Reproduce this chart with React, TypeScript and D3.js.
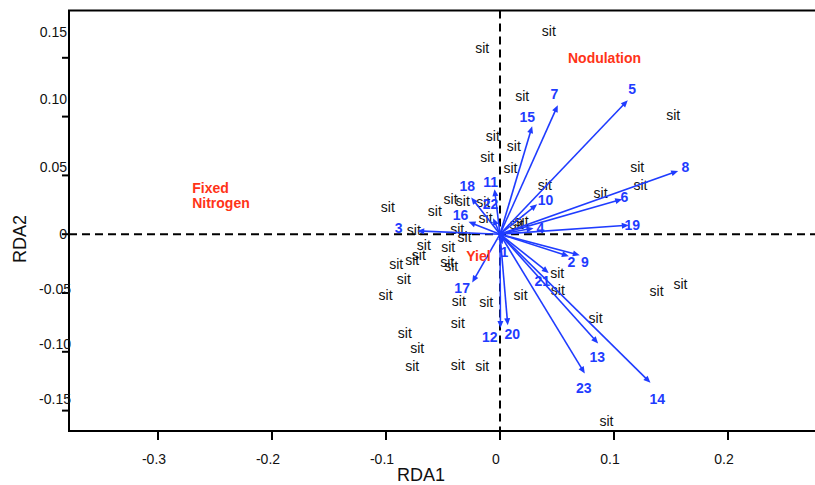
import * as d3 from "d3";
import { useEffect, useRef } from "react";

// RDA biplot: response arrows (blue), site scores (black "sit"), factor labels (red)
const ARROW_IDS = ["1", "2", "3", "4", "5", "6", "7", "8", "9", "10", "11", "12", "13", "14", "15", "16", "17", "18", "19", "20", "21", "22", "23"];
const ARROW_RDA1 = [0.0022, 0.0604, -0.0726, 0.0294, 0.1121, 0.1072, 0.0507, 0.1563, 0.07, 0.0326, -0.0048, 0.0004, 0.0861, 0.132, 0.0282, -0.0276, -0.0244, -0.0253, 0.113, 0.0068, 0.0428, -0.006, 0.0744];
const ARROW_RDA2 = [-0.0085, -0.0187, 0.0028, 0.0051, 0.1139, 0.0298, 0.1097, 0.0538, -0.0179, 0.0255, 0.0383, -0.0797, -0.0929, -0.1264, 0.0918, 0.0105, -0.0411, 0.0312, 0.0077, -0.0774, -0.0329, 0.0136, -0.1185];
const LABEL_RDA1 = [0.0039, 0.0627, -0.089, 0.0355, 0.116, 0.1092, 0.0478, 0.1627, 0.0744, 0.0399, -0.0083, -0.0089, 0.0853, 0.1379, 0.0239, -0.0346, -0.0332, -0.0288, 0.116, 0.0107, 0.037, -0.0083, 0.0735];
const LABEL_RDA2 = [-0.0151, -0.0241, 0.0051, 0.0054, 0.123, 0.0312, 0.1188, 0.0572, -0.0241, 0.0289, 0.0445, -0.0878, -0.1048, -0.1406, 0.0992, 0.0162, -0.0462, 0.0408, 0.0077, -0.085, -0.0397, 0.0255, -0.1312];

const SITE_RDA1 = [0.0428, -0.0156, 0.0195, -0.0063, 0.0121, -0.0112, 0.0092, 0.0393, -0.0984, -0.0572, -0.0434, -0.0326, -0.0147, -0.0127, 0.0145, 0.0189, -0.0756, -0.0375, -0.0311, -0.0668, -0.0454, -0.0712, -0.077, -0.0911, -0.0463, -0.0428, -0.0844, -0.1004, -0.0361, -0.0121, 0.018, 0.0502, 0.0507, -0.037, -0.0835, -0.0726, -0.077, -0.037, -0.0156, 0.0838, 0.1373, 0.1583, 0.0934, 0.1519, 0.1204, 0.1232, 0.0882];
const SITE_RDA2 = [0.1729, 0.1584, 0.1173, 0.0833, 0.0751, 0.0657, 0.0564, 0.0417, 0.0232, 0.0198, 0.0295, 0.0283, 0.0275, 0.0134, 0.0089, 0.0111, 0.0034, 0.004, -0.0028, -0.0096, -0.0106, -0.0179, -0.0221, -0.0258, -0.0236, -0.0272, -0.0385, -0.0519, -0.0567, -0.0581, -0.0519, -0.0329, -0.0476, -0.0754, -0.0844, -0.0972, -0.1122, -0.1114, -0.1122, -0.0717, -0.0485, -0.0428, -0.1588, 0.1012, 0.0572, 0.0417, 0.0351];

const FACTOR_NAMES = ["Nodulation", "Fixed", "Nitrogen", "Yiel"];
const FACTOR_RDA1 = [0.0917, -0.27, -0.27, -0.0296];
const FACTOR_RDA2 = [0.1494, 0.0389, 0.0261, -0.0187];
const FACTOR_ANCHOR = ["middle", "start", "start", "start"];

const X_TICKS = [-0.3, -0.2, -0.1, 0, 0.1, 0.2];
const X_TICK_LABELS = ["-0.3", "-0.2", "-0.1", "0", "0.1", "0.2"];
const Y_TICKS = [-0.15, -0.1, -0.05, 0, 0.05, 0.1, 0.15];
const Y_TICK_LABELS = ["-0.15", "-0.10", "-0.05", "0", "0.05", "0.10", "0.15"];

const BLUE = "#1f3cff";
const RED = "#ff3318";
const FONT = "'Liberation Sans', Arial, sans-serif";

export default function App() {
  const svgRef = useRef<SVGSVGElement>(null);
  const width = 815;
  const height = 485;

  useEffect(() => {
    if (!svgRef.current) return;
    const svg = d3.select(svgRef.current);
    svg.selectAll("*").remove();

    const left = 69, top = 10.5, bottom = 431, right = 817;
    const x = d3.scaleLinear().domain([-0.3, 0.2]).range([158, 728]);
    const y = d3.scaleLinear().domain([-0.15, 0.15]).range([410.6, 57.8]);
    // tick labels in the original drift away from their ticks
    const yLab = d3.scaleLinear().domain([-0.15, 0, 0.15]).range([y(-0.15) - 12, y(0), y(0.15) - 26]);

    // frame
    svg.append("path")
      .attr("d", `M${right},${top} L${left},${top} L${left},${bottom} L${right},${bottom}`)
      .attr("fill", "none").attr("stroke", "#000").attr("stroke-width", 2);

    // zero lines
    svg.append("line")
      .attr("x1", left).attr("x2", right).attr("y1", y(0)).attr("y2", y(0))
      .attr("stroke", "#000").attr("stroke-width", 2).attr("stroke-dasharray", "8,5");
    svg.append("line")
      .attr("x1", x(0)).attr("x2", x(0)).attr("y1", top).attr("y2", bottom)
      .attr("stroke", "#000").attr("stroke-width", 2).attr("stroke-dasharray", "8,5");

    // x ticks
    X_TICKS.forEach((t, i) => {
      svg.append("line")
        .attr("x1", x(t)).attr("x2", x(t)).attr("y1", bottom).attr("y2", bottom + 9)
        .attr("stroke", "#000").attr("stroke-width", 2);
      svg.append("text")
        .attr("x", x(t) - 4).attr("y", 459).attr("dy", "0.35em")
        .attr("text-anchor", "middle").attr("font-family", FONT).attr("font-size", 14)
        .attr("fill", "#111").text(X_TICK_LABELS[i]);
    });
    // y ticks
    Y_TICKS.forEach((t, i) => {
      svg.append("line")
        .attr("x1", left - 7).attr("x2", left).attr("y1", y(t)).attr("y2", y(t))
        .attr("stroke", "#000").attr("stroke-width", 2);
      svg.append("text")
        .attr("x", t < 0 ? 71 : 67).attr("y", yLab(t)).attr("dy", "0.35em")
        .attr("text-anchor", "end").attr("font-family", FONT).attr("font-size", 14)
        .attr("fill", "#111").text(Y_TICK_LABELS[i]);
    });

    // axis titles
    svg.append("text")
      .attr("x", 421).attr("y", 475).attr("dy", "0.35em").attr("text-anchor", "middle")
      .attr("font-family", FONT).attr("font-size", 18).attr("fill", "#111").text("RDA1");
    svg.append("text")
      .attr("transform", "translate(20,239) rotate(-90)").attr("dy", "0.35em")
      .attr("text-anchor", "middle").attr("font-family", FONT).attr("font-size", 18)
      .attr("fill", "#111").text("RDA2");

    // sites
    SITE_RDA1.forEach((sx, i) => {
      svg.append("text")
        .attr("x", x(sx)).attr("y", y(SITE_RDA2[i])).attr("dy", "0.35em")
        .attr("text-anchor", "middle").attr("font-family", FONT).attr("font-size", 14)
        .attr("fill", "#111").text("sit");
    });

    // arrows
    const ox = x(0), oy = y(0);
    ARROW_IDS.forEach((id, i) => {
      const tx = x(ARROW_RDA1[i]), ty = y(ARROW_RDA2[i]);
      const dx = tx - ox, dy = ty - oy;
      const len = Math.hypot(dx, dy) || 1;
      const ux = dx / len, uy = dy / len;
      const hl = Math.min(7, len * 0.6), hw = 3;
      svg.append("line")
        .attr("x1", ox).attr("y1", oy)
        .attr("x2", tx - ux * hl * 0.7).attr("y2", ty - uy * hl * 0.7)
        .attr("stroke", BLUE).attr("stroke-width", 1.6);
      const bx = tx - ux * hl, by = ty - uy * hl;
      svg.append("path")
        .attr("d", `M${tx},${ty} L${bx - uy * hw},${by + ux * hw} L${bx + uy * hw},${by - ux * hw} Z`)
        .attr("fill", BLUE);
      svg.append("text")
        .attr("x", x(LABEL_RDA1[i])).attr("y", y(LABEL_RDA2[i])).attr("dy", "0.35em")
        .attr("text-anchor", "middle").attr("font-family", FONT).attr("font-size", 14)
        .attr("font-weight", "bold").attr("fill", BLUE).text(id);
    });

    // factor labels
    FACTOR_NAMES.forEach((name, i) => {
      svg.append("text")
        .attr("x", x(FACTOR_RDA1[i])).attr("y", y(FACTOR_RDA2[i])).attr("dy", "0.35em")
        .attr("text-anchor", FACTOR_ANCHOR[i]).attr("font-family", FONT).attr("font-size", 14)
        .attr("font-weight", "bold").attr("fill", RED).text(name);
    });
  }, []);

  return (
    <svg ref={svgRef} width={width} height={height}
      style={{ position: "absolute", left: 0, top: 0, background: "#fff" }} />
  );
}
